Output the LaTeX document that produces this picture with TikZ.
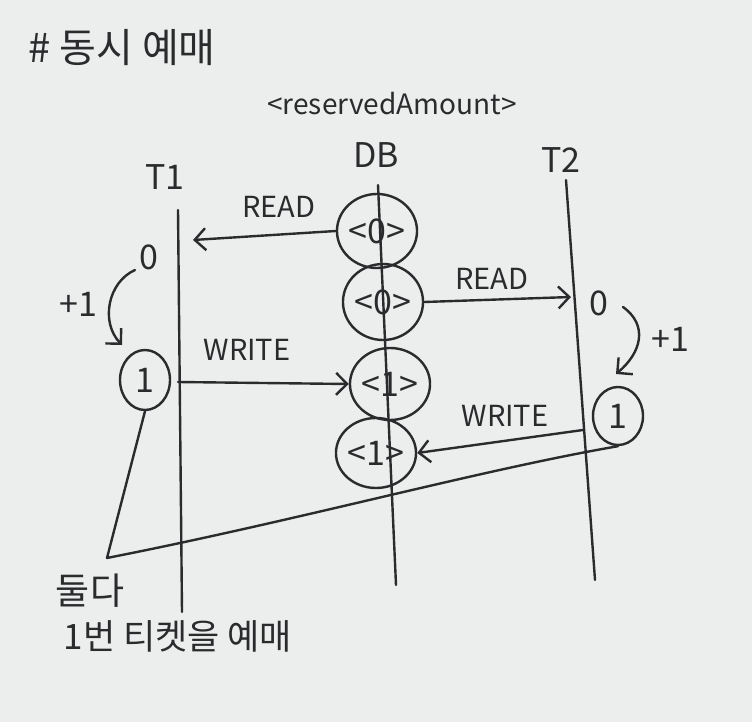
\documentclass[tikz,border=0pt]{standalone}
\usepackage{fontspec}
\setmainfont{Noto Sans CJK KR}
\usetikzlibrary{arrows.meta,shapes.geometric}
\definecolor{inkc}{HTML}{2B2B2E}
\definecolor{paper}{HTML}{ECEEED}
\begin{document}
\begin{tikzpicture}[x=1pt,y=-1pt,
  ink/.style={draw=inkc, line width=2.4pt, line cap=round, line join=round},
  arr/.style={ink, -{Straight Barb[length=11pt,width=22pt,line width=2.4pt]}},
  txt/.style={text=inkc, inner sep=0pt},
  big/.style={txt, font=\fontsize{40}{42}\selectfont},
  mid/.style={txt, font=\fontsize{34}{36}\selectfont},
  lab/.style={txt, font=\fontsize{29}{31}\selectfont},
  val/.style={ink, ellipse, inner sep=0pt, text=inkc, font=\fontsize{34}{36}\selectfont},
]
\fill[paper] (0,0) rectangle (752,722);

% title and header
\node[big] (title) at (122,48) {\# 동시 예매};
\node[lab, font=\fontsize{28}{30}\selectfont] (amount) at (392,104) {<reservedAmount>};
\node[mid] (T1) at (165,177) {T1};
\node[mid] (DB) at (376,155) {DB};
\node[mid] (T2) at (561,160) {T2};

% lifelines
\coordinate (t1top) at (178,210);
\coordinate (t1bot) at (182,612);
\coordinate (dbtop) at (378,185);
\coordinate (dbbot) at (396,585);
\coordinate (t2top) at (566,180);
\coordinate (t2bot) at (595,580);
\draw[ink] (t1top) -- (t1bot);
\draw[ink] (dbtop) -- (dbbot);
\draw[ink] (t2top) -- (t2bot);

% DB values
\node[val, minimum width=76pt, minimum height=74pt] (dbA) at (377,231) {<0>};
\node[val, minimum width=72pt, minimum height=76pt] (dbB) at (383,302) {<0>};
\node[val, minimum width=74pt, minimum height=72pt] (dbC) at (390,384) {<1>};
\node[val, minimum width=76pt, minimum height=70pt] (dbD) at (376,453) {<1>};

% T1 side
\node[mid] (t1zero) at (149,257) {0};
\node[val, minimum width=50pt, minimum height=60pt] (t1one) at (145,380) {1};
\draw[arr] (135,270) .. controls (108,282) and (100,322) .. (122,345);
\node[mid] (t1plus) at (78,304) {+1};

% T2 side
\node[mid] (t2zero) at (599,303) {0};
\node[val, minimum width=50pt, minimum height=58pt] (t2one) at (618,416) {1};
\draw[arr] (623,307) .. controls (648,325) and (642,352) .. (616,374);
\node[mid] (t2plus) at (670,339) {+1};

% messages
\coordinate (t1read) at (193,240);
\coordinate (t2read) at (571,297);
\coordinate (t1write) at (178,382);
\coordinate (t2write) at (583,430);
\draw[arr] (dbA.west) -- (t1read);
\node[lab] (read1) at (279,207) {READ};
\draw[arr] (dbB.east) -- (t2read);
\node[lab] (read2) at (492,279) {READ};
\draw[arr] (t1write) -- (dbC.west);
\node[lab] (write1) at (247,350) {WRITE};
\draw[arr] (t2write) -- (dbD.east);
\node[lab] (write2) at (505,416) {WRITE};

% bracket
\coordinate (corner) at (107,558);
\draw[ink] (t1one.south) -- (corner) .. controls (300,520) and (480,470) .. (t2one.south);

% bottom note
\node[big, font=\fontsize{37}{39}\selectfont] (both) at (90,591) {둘다};
\node[big, font=\fontsize{35}{37}\selectfont] (note) at (178,636) {1번 티켓을 예매};
\end{tikzpicture}
\end{document}
